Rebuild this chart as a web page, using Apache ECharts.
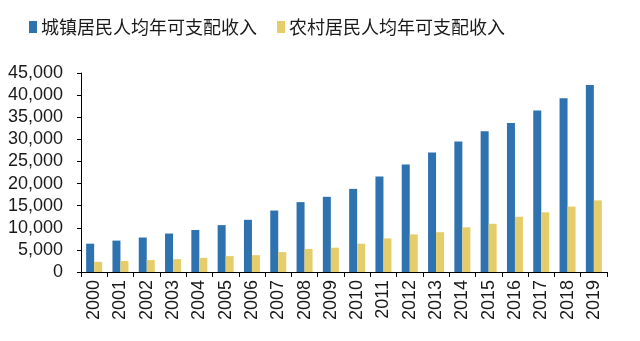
<!DOCTYPE html>
<html>
<head>
<meta charset="utf-8">
<script src="https://cdn.jsdelivr.net/npm/echarts@6/dist/echarts.min.js"></script>
<style>
html,body{margin:0;padding:0;background:#fff;}
#c{width:640px;height:341px;}
</style>
</head>
<body>
<div id="c"></div>
<script>
var years = ['2000','2001','2002','2003','2004','2005','2006','2007','2008','2009','2010','2011','2012','2013','2014','2015','2016','2017','2018','2019'];
var urban = [6400,7100,7800,8700,9500,10600,11800,13900,15800,17000,18800,21600,24300,27000,29500,31800,33700,36500,39300,42300];
var rural = [2300,2500,2700,2900,3200,3600,3800,4500,5200,5500,6400,7600,8500,9000,10100,10900,12500,13500,14800,16200];
var seriesNames = ['城镇居民人均年可支配收入','农村居民人均年可支配收入'];

var chart = echarts.init(document.getElementById('c'));
chart.setOption({
  animation: false,
  backgroundColor: '#fff',
  legend: {
    left: 24, top: 13,
    itemWidth: 8, itemHeight: 12, itemGap: 20,
    icon: 'rect',
    textStyle: {fontSize: 18, color: '#1a1a1a', fontFamily: 'Noto Sans CJK SC', padding: [0,0,0,-1]},
    data: seriesNames
  },
  grid: {left: 81, right: 33, top: 73, bottom: 69},
  xAxis: {
    type: 'category',
    data: years,
    axisLine: {lineStyle: {color: '#000', width: 1}},
    axisTick: {show: true, length: 5, lineStyle: {color: '#000'}},
    axisLabel: {rotate: 90, fontSize: 18, color: '#1a1a1a', fontFamily: 'Liberation Sans', margin: 8}
  },
  yAxis: {
    type: 'value',
    min: 0, max: 45000, interval: 5000,
    splitLine: {show: false},
    axisLine: {show: true, lineStyle: {color: '#000', width: 1}},
    axisTick: {show: true, length: 4, lineStyle: {color: '#000'}},
    axisLabel: {fontSize: 18, color: '#1a1a1a', fontFamily: 'Liberation Sans', margin: 18,
      formatter: function(v){ return v.toLocaleString('en-US'); }}
  },
  series: [
    {name: seriesNames[0], type: 'bar', data: urban, barWidth: 8, barGap: '0%',
     itemStyle: {color: '#2E72B0'}},
    {name: seriesNames[1], type: 'bar', data: rural, barWidth: 8, barGap: '0%',
     itemStyle: {color: '#E6CD6C'}}
  ]
});
</script>
</body>
</html>
